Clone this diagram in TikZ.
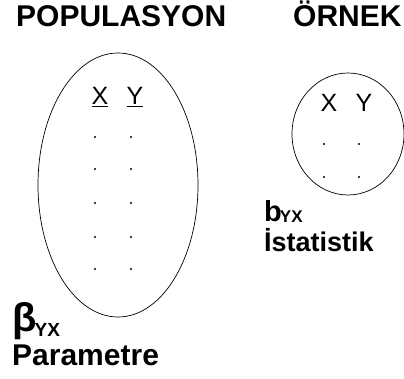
\documentclass[tikz,border=0pt]{standalone}
\usepackage{fontspec}
\setmainfont{Liberation Sans}
\usetikzlibrary{shapes.geometric}

\begin{document}
\begin{tikzpicture}[
  x=1pt,y=-1pt,
  title/.style={anchor=base west,inner sep=0pt,font=\fontsize{30}{32}\selectfont\bfseries},
  set/.style={draw,ellipse,line width=0.7pt,inner sep=0pt},
  var/.style={anchor=base,inner sep=0pt,font=\fontsize{25}{27}\selectfont},
  label/.style={anchor=base west,inner sep=0pt,align=left,font=\bfseries}
]
\useasboundingbox (0,0) rectangle (404,379);
% titles
\node[title] (poptitle) at (16,27) {POPULASYON};
\node[title] (smptitle) at (293,27) {ÖRNEK};
% population
\node[set,minimum width=160,minimum height=264] (pop) at (118,185) {};
\node[var] (popx) at (100,105) {\underline{X}};
\node[var] (popy) at (135,105) {\underline{Y}};
\foreach \r in {137,169,203,237,269}{
  \fill (95,\r) circle (1.1);
  \fill (131,\r) circle (1.1);
}
% sample
\node[set,minimum width=112,minimum height=122] (smp) at (348,134) {};
\node[var] (smpx) at (329,112) {X};
\node[var] (smpy) at (364,112) {Y};
\foreach \r in {144,177}{
  \fill (324,\r) circle (1.1);
  \fill (359,\r) circle (1.1);
}
% labels
\node[label,font=\fontsize{40}{42}\selectfont\bfseries] (beta) at (12,331) {β\kern-2pt\raisebox{-5pt}{\fontsize{19}{20}\selectfont YX}};
\node[label,font=\fontsize{30}{32}\selectfont\bfseries] (param) at (12,365) {Parametre};
\node[label,font=\fontsize{29}{31}\selectfont\bfseries] (b) at (264,222) {b\kern-2pt\raisebox{-1pt}{\fontsize{17}{18}\selectfont YX}};
\node[label,font=\fontsize{27}{29}\selectfont\bfseries] (stat) at (264,252) {İstatistik};
\end{tikzpicture}
\end{document}
